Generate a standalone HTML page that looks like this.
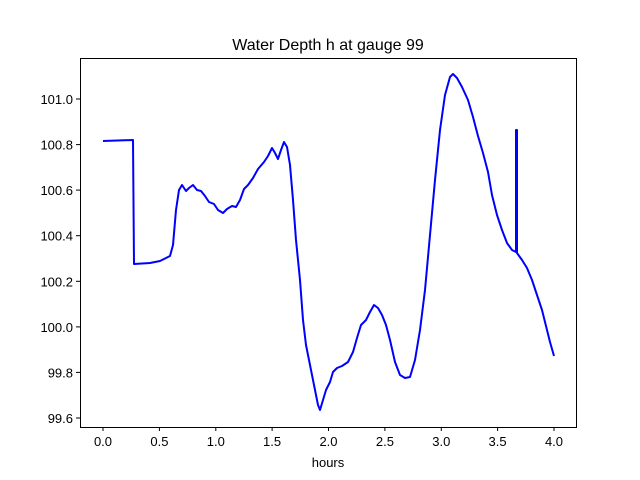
<!DOCTYPE html>
<html><head><style>body{margin:0;background:#fff}svg{display:block}text{font-family:"Liberation Sans","DejaVu Sans",sans-serif;fill:#000}</style></head>
<body>
<svg width="640" height="480" viewBox="0 0 640 480">
<rect width="640" height="480" fill="#fff"/>
<text x="328" y="50" font-size="16" text-anchor="middle">Water Depth h at gauge 99</text>
<polyline fill="none" stroke="#0000ff" stroke-width="2" stroke-linejoin="round" points="103,141 133,140 134,264 150,263 160,261 170,256 173,245 176,210 179,190 182,185 186,191 189,188 193,185 197,190 201,191 205,196 209,202 214,204 218,210 223,213 227,209 232,206 236,207 240,200 244,189 248,185 253,178 258,169 264,162 268,156 272,148 275,153 278,159 281,150 284,142 287,147 290,165 293,200 296,240 300,280 303,320 306,345 310,365 314,385 318,405 320,410 323,400 326,390 330,382 333,372 337,368 342,366 348,362 353,352 357,338 361,325 366,320 370,312 374,305 378,308 382,315 386,325 390,340 395,362 400,375 405,378 410,377 415,360 420,330 425,290 430,235 435,180 440,130 445,95 450,77 453,74 457,78 462,87 468,100 473,117 478,136 483,153 488,172 492,195 497,215 502,230 507,243 512,250 516,252 516,130 517,130 517,253 522,260 527,268 532,280 537,295 542,310 547,330 550,342 554,356"/>
<rect x="80.5" y="58.5" width="496" height="369" fill="none" stroke="#000" stroke-width="1"/>
<g stroke="#000" stroke-width="1">
<line x1="103" y1="427" x2="103" y2="431"/><line x1="159.4" y1="427" x2="159.4" y2="431"/><line x1="215.8" y1="427" x2="215.8" y2="431"/><line x1="272.1" y1="427" x2="272.1" y2="431"/><line x1="328.5" y1="427" x2="328.5" y2="431"/><line x1="384.9" y1="427" x2="384.9" y2="431"/><line x1="441.3" y1="427" x2="441.3" y2="431"/><line x1="497.6" y1="427" x2="497.6" y2="431"/><line x1="554" y1="427" x2="554" y2="431"/>
<line x1="76" y1="99" x2="80" y2="99"/><line x1="76" y1="144.6" x2="80" y2="144.6"/><line x1="76" y1="190.1" x2="80" y2="190.1"/><line x1="76" y1="235.7" x2="80" y2="235.7"/><line x1="76" y1="281.3" x2="80" y2="281.3"/><line x1="76" y1="326.9" x2="80" y2="326.9"/><line x1="76" y1="372.4" x2="80" y2="372.4"/><line x1="76" y1="418" x2="76" y2="418"/><line x1="76" y1="418" x2="80" y2="418"/>
</g>
<g font-size="13" text-anchor="middle">
<text x="103" y="446">0.0</text><text x="159.4" y="446">0.5</text><text x="215.8" y="446">1.0</text><text x="272.1" y="446">1.5</text><text x="328.5" y="446">2.0</text><text x="384.9" y="446">2.5</text><text x="441.3" y="446">3.0</text><text x="497.6" y="446">3.5</text><text x="554" y="446">4.0</text>
<text x="328" y="467">hours</text>
</g>
<g font-size="13" text-anchor="end">
<text x="73" y="104">101.0</text><text x="73" y="149.6">100.8</text><text x="73" y="195.1">100.6</text><text x="73" y="240.7">100.4</text><text x="73" y="286.3">100.2</text><text x="73" y="331.9">100.0</text><text x="73" y="377.4">99.8</text><text x="73" y="423">99.6</text>
</g>
</svg>
</body></html>
